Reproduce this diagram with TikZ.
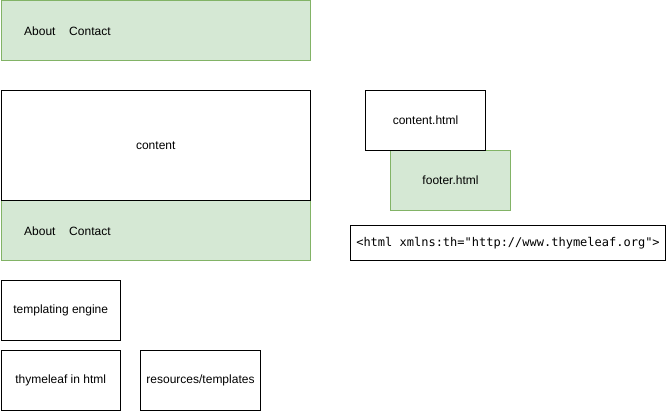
\documentclass[tikz,border=0pt]{standalone}
\usepackage{fontspec}
\setmainfont{Liberation Sans}
\newfontfamily\monofont{DejaVu Sans Mono}
\definecolor{gfill}{HTML}{D5E8D4}
\definecolor{gline}{HTML}{82B366}
\begin{document}
\begin{tikzpicture}[x=1pt,y=-1pt,
  box/.style={draw=black,fill=white,line width=1pt,rectangle,inner sep=0pt,anchor=north west,
    font=\fontsize{12}{14}\selectfont},
  gbox/.style={box,draw=gline,fill=gfill},
  lbl/.style={inner sep=0pt,anchor=west,font=\fontsize{12}{14}\selectfont}]
\useasboundingbox (0,0) rectangle (666,411);
\node[gbox,minimum width=309.5pt,minimum height=59.5pt] (hdr) at (0.5,0.5) {};
\node[lbl] (hdrtxt) at (24,31) {About\hspace{13.7pt}Contact};
\node[gbox,minimum width=309.5pt,minimum height=60pt] (ftr) at (0.5,200) {};
\node[lbl] (ftrtxt) at (24,231) {About\hspace{13.7pt}Contact};
\node[box,minimum width=309.5pt,minimum height=110pt] (content) at (0.5,90) {content};
\node[gbox,minimum width=120pt,minimum height=60pt] (footerhtml) at (390,150) {footer.html};
\node[box,minimum width=120pt,minimum height=60pt] (contenthtml) at (365,90) {content.html};
\node[box,minimum width=315pt,minimum height=35pt,font=\fontsize{12}{14}\monofont] (html) at (350,225) {<html xmlns:th="http://www.thymeleaf.org">};
\node[box,minimum width=119.5pt,minimum height=60pt] (engine) at (0.5,280) {templating engine};
\node[box,minimum width=119.5pt,minimum height=60pt] (thy) at (0.5,350) {thymeleaf in html};
\node[box,minimum width=120pt,minimum height=60pt] (res) at (140,350) {resources/templates};
\end{tikzpicture}
\end{document}
